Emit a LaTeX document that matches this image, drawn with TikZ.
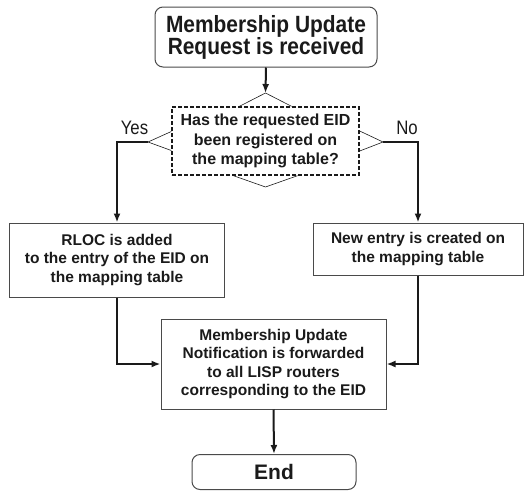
\documentclass[tikz,border=0pt]{standalone}
\usepackage{fontspec}
\setmainfont{Liberation Sans}
\newfontfamily\tallfont[FakeStretch=0.89]{Liberation Sans}
\newfontfamily\labfont[FakeStretch=0.86]{Liberation Sans}
\usetikzlibrary{arrows.meta}
\definecolor{ink}{HTML}{1A1A1A}
\definecolor{edge}{HTML}{4A4A4A}
\tikzset{
  start/.style={draw=edge, line width=1pt, rounded corners=8pt, align=center, text=ink,
    font=\tallfont\bfseries\fontsize{23.5}{22}\selectfont, inner sep=0pt},
  proc/.style={draw=edge, line width=1pt, align=center, text=ink,
    font=\bfseries\fontsize{15.5}{18.5}\selectfont, inner sep=0pt},
  query/.style={draw=ink, dash pattern=on 4pt off 2pt, line width=1.4pt, align=center, text=ink,
    font=\bfseries\fontsize{16}{19.5}\selectfont, inner sep=0pt},
  tri/.style={draw=ink, line width=0.6pt, line join=miter},
  flow/.style={draw=ink, line width=2pt, line join=miter, -{Latex[length=9pt,width=7pt]}},
  lab/.style={text=ink, font=\labfont\fontsize{19.5}{20}\selectfont, inner sep=0pt},
}

\begin{document}
\begin{tikzpicture}[x=1pt, y=1pt]
  \useasboundingbox (0,0) rectangle (524,-490);
  % boxes
  \node[start, minimum width=222pt, minimum height=60pt] (req) at (266,-37)
    {Membership Update\\Request is received};
  \node[query, minimum width=187pt, minimum height=68pt] (chk) at (265.5,-141)
    {Has the requested EID\\been registered on\\the mapping table?};
  \node[proc, minimum width=215pt, minimum height=74pt] (add) at (117,-260)
    {RLOC is added\\to the entry of the EID on\\the mapping table};
  \node[proc, minimum width=210pt, minimum height=52pt] (new) at (418,-249)
    {New entry is created on\\the mapping table};
  \node[proc, minimum width=225pt, minimum height=90pt] (ntf) at (273.5,-364)
    {Membership Update\\Notification is forwarded\\to all LISP routers\\corresponding to the EID};
  \node[start, font=\bfseries\fontsize{21}{22}\selectfont, minimum width=164pt, minimum height=35pt] (end) at (274,-472) {End};
  % tips of the decision box
  \coordinate (tt) at (265.5,-93);
  \coordinate (tl) at (148,-142);
  \coordinate (tr) at (383,-142);
  \coordinate (tb) at (265.5,-187);
  \draw[tri] ([xshift=-26pt]chk.north) -- (tt) -- ([xshift=26pt]chk.north);
  \draw[tri] ([xshift=-32pt]chk.south) -- (tb) -- ([xshift=32pt]chk.south);
  \draw[tri] ([yshift=9.5pt]chk.west) -- (tl) -- ([yshift=-9.5pt]chk.west);
  \draw[tri] ([yshift=10pt]chk.east) -- (tr) -- ([yshift=-10pt]chk.east);
  \node[lab] (yes) at (134.5,-128) {Yes};
  \node[lab] (no) at (407,-128) {No};
  % connectors
  \draw[flow] (req.south) -- (tt);
  \draw[flow] (tl) -| (add.north);
  \draw[flow] (tr) -| (new.north);
  \draw[flow] (add.south) |- (ntf.west);
  \draw[flow] (new.south) |- (ntf.east);
  \draw[flow] (ntf.south) -- (end.north);
\end{tikzpicture}
\end{document}
